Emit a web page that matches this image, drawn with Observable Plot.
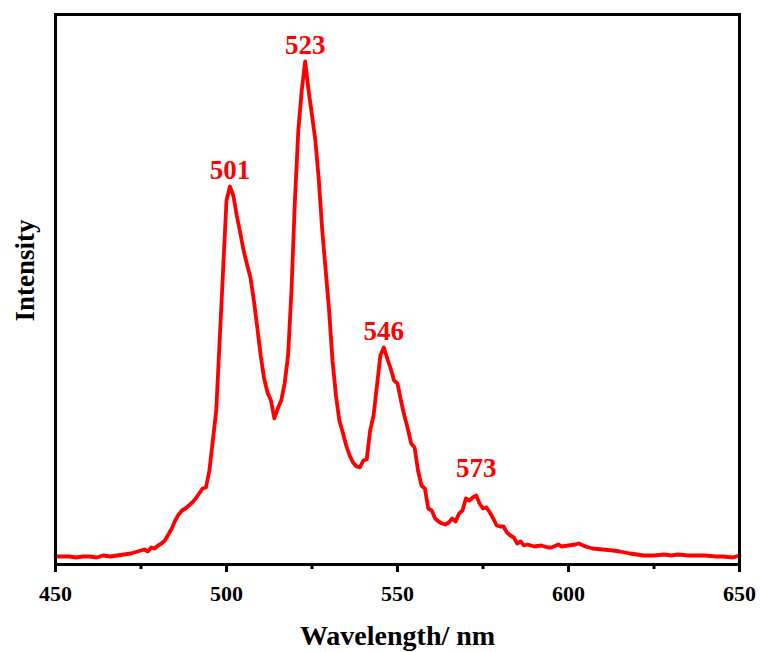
<!DOCTYPE html>
<html>
<head>
<meta charset="utf-8">
<script src="https://cdn.jsdelivr.net/npm/d3@7"></script>
<script src="https://cdn.jsdelivr.net/npm/@observablehq/plot@0.6"></script>
<style>
  html, body { margin: 0; padding: 0; background: #fff; }
  #chart svg { display: block; }
</style>
</head>
<body>
<div id="chart"></div>
<script>
// Wavelength (nm)
const wavelength = [
  450,452,454,456,458,460,462,464,466,468,470,472,474,475,476,477,478,479,480,481,482,483,484,485,486,487,488,489,490,491,492,493,494,495,496,497,498,499,500,501,502,503,504,505,506,507,508,509,510,511,512,513,514,515,516,517,518,519,520,521,522,523,524,525,526,527,528,529,530,531,532,533,534,535,536,537,538,539,540,541,542,543,544,545,546,547,548,549,550,551,552,553,554,555,556,557,558,559,560,561,562,563,564,565,566,567,568,569,570,571,572,573,574,575,576,577,578,579,580,581,582,583,584,585,586,587,588,590,592,594,595,597,598,600,602,603,605,607,610,613,615,618,620,622,625,628,630,632,635,638,640,643,645,648,650
];
// Intensity (a.u.)
const intensity = [
  8,8,8,7,8,8,7,9,8,9,10,11,13,14,15,13,17,16,19,21,24,30,36,44,50,54,56,59,62,66,71,76,77,94,124,154,224,294,364,378,369,349,332,314,300,287,264,237,209,186,172,164,146,156,164,181,209,274,364,434,474,503,474,449,424,384,334,294,254,204,169,144,132,119,109,102,98,97,104,105,134,149,179,209,217,206,196,184,181,164,149,136,121,117,94,79,76,56,54,46,43,41,40,42,46,43,51,54,66,64,67,69,61,56,57,52,46,39,38,38,32,29,27,21,23,19,20,18,19,17,17,20,18,19,20,21,18,16,15,14,13,11,10,9,9,10,9,10,9,9,9,8,8,7,9
];
const peakWavelengths = [501, 523, 546];
const peakIntensity = [378, 503, 217];
const smallPeakWavelength = [573];
const smallPeakIntensity = [69];
const majorTicks = [450, 500, 550, 600, 650];
const minorTicks = [475, 525, 575, 625];
const xTitle = "Wavelength/ nm";
const yTitle = "Intensity";

const spectrum = wavelength.map((w, i) => ({w, v: intensity[i]}));
const peaks = peakWavelengths.map((w, i) => ({w, v: peakIntensity[i], label: String(w)}));
const smallPeaks = smallPeakWavelength.map((w, i) => ({w, v: smallPeakIntensity[i], label: String(w)}));

const font = "'Liberation Serif', 'Times New Roman', serif";

const chart = Plot.plot({
  width: 760,
  height: 652,
  marginLeft: 55,
  marginRight: 21,
  marginTop: 14,
  marginBottom: 88,
  style: {fontFamily: font, background: "#fff"},
  x: {domain: [450, 650], axis: null},
  y: {domain: [0, 550], axis: null},
  marks: [
    Plot.line(spectrum, {x: "w", y: "v", stroke: "#ff0000", strokeWidth: 3.8, strokeLinejoin: "round"}),
    Plot.text(peaks, {x: "w", y: "v", text: "label", dy: -16, fill: "#ff0000", fontSize: 27, fontWeight: "bold", fontFamily: font}),
    Plot.text(smallPeaks, {x: "w", y: "v", text: "label", dy: -27, fill: "#ff0000", fontSize: 27, fontWeight: "bold", fontFamily: font}),
    Plot.axisX({ticks: majorTicks, tickSize: 8, tickPadding: 13, strokeWidth: 3, stroke: "#000", tickFormat: d => String(d), fontSize: 22, fontWeight: "bold", fill: "#000", label: null}),
    Plot.axisX({ticks: minorTicks, tickSize: 5, strokeWidth: 3, stroke: "#000", tickFormat: () => "", label: null}),
    Plot.frame({stroke: "#000", strokeWidth: 3}),
    Plot.text([xTitle], {frameAnchor: "bottom", dy: 80, fontSize: 28, fontWeight: "bold", fill: "#000", fontFamily: font}),
    Plot.text([yTitle], {frameAnchor: "left", textAnchor: "middle", dx: -30, dy: -19, rotate: -90, fontSize: 27, fontWeight: "bold", fill: "#000", fontFamily: font})
  ]
});
document.getElementById("chart").appendChild(chart);
</script>
</body>
</html>
